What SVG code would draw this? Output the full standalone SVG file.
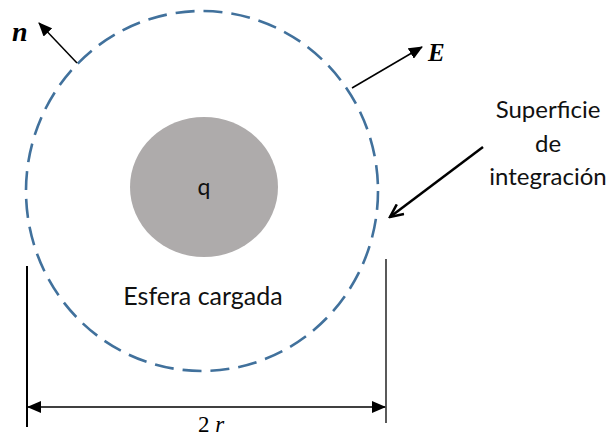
<svg xmlns="http://www.w3.org/2000/svg" width="612" height="436" viewBox="0 0 612 436">
<defs>
<style>
.lbl{font-family:Lato,"Open Sans","Liberation Sans",sans-serif;fill:#111;}
.math{font-family:"Liberation Serif","DejaVu Serif",serif;font-style:italic;fill:#000;}
.ln{stroke:#000;fill:none;}
</style>
<marker id="tri" viewBox="0 0 14 12" refX="13" refY="6" markerWidth="14" markerHeight="12" markerUnits="userSpaceOnUse" orient="auto">
<path d="M0,0 L14,6 L0,12 Z" fill="#000"/>
</marker>
<marker id="triS" viewBox="0 0 14 12" refX="13" refY="6" markerWidth="14" markerHeight="12" markerUnits="userSpaceOnUse" orient="auto-start-reverse">
<path d="M0,0 L14,6 L0,12 Z" fill="#000"/>
</marker>
<marker id="vee" viewBox="0 0 16 14" refX="14" refY="7" markerWidth="16" markerHeight="14" markerUnits="userSpaceOnUse" orient="auto">
<path d="M1,1 L14,7 L1,13" fill="none" stroke="#000" stroke-width="2.5"/>
</marker>
</defs>
<rect width="612" height="436" fill="#fff"/>
<g id="superficie">
<ellipse cx="202" cy="191" rx="176" ry="180" fill="none" stroke="#41719C" stroke-width="2.6" stroke-dasharray="19 9"/>
</g>
<g id="esfera">
<ellipse cx="204" cy="187" rx="74" ry="70" fill="#AEABAB"/>
<text class="lbl" x="204" y="195" font-size="23" text-anchor="middle">q</text>
<text class="lbl" x="203" y="305" font-size="25" text-anchor="middle">Esfera cargada</text>
</g>
<g id="label-superficie">
<text class="lbl" x="548" y="118" font-size="24" text-anchor="middle">Superficie</text>
<text class="lbl" x="548" y="152" font-size="24" text-anchor="middle">de</text>
<text class="lbl" x="548" y="185" font-size="24" text-anchor="middle">integración</text>
</g>
<g id="label-n"><text class="math" x="12" y="41" font-size="28" font-weight="bold">n</text></g>
<g id="label-E"><text class="math" x="428" y="61" font-size="25" font-weight="bold">E</text></g>
<g id="label-2r"><text class="math" x="198" y="432" font-size="23"><tspan font-style="normal">2</tspan> r</text></g>
<g id="connectors">
<line class="ln" x1="77" y1="63" x2="39" y2="23" stroke-width="1.5" marker-end="url(#tri)"/>
<line class="ln" x1="352" y1="88" x2="422" y2="47" stroke-width="1.5" marker-end="url(#tri)"/>
<line class="ln" x1="483" y1="147" x2="390" y2="217" stroke-width="2.5" marker-end="url(#vee)"/>
<line class="ln" x1="27" y1="266" x2="27" y2="427" stroke-width="2"/>
<line class="ln" x1="386" y1="259" x2="386" y2="423" stroke-width="1.3"/>
<line class="ln" x1="28" y1="407" x2="385" y2="407" stroke-width="1.3" marker-start="url(#triS)" marker-end="url(#triS)"/>
</g>
</svg>
